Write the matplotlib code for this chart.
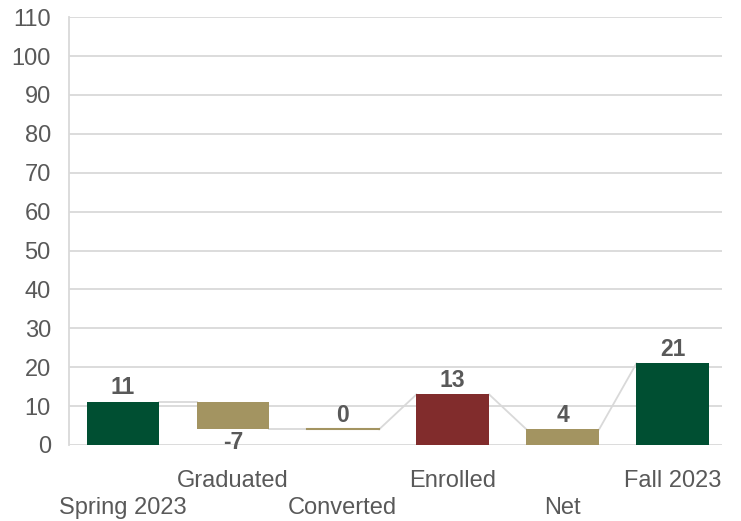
import matplotlib.pyplot as plt

plt.rcParams['font.family'] = ['Liberation Sans', 'DejaVu Sans']

categories = ['Spring 2023', 'Graduated', 'Converted', 'Enrolled', 'Net', 'Fall 2023']
values = [11, -7, 0, 13, 4, 21]
bar_bottom = [0, 4, 4, 0, 0, 0]
bar_top = [11, 11, 4, 13, 4, 21]
# level of the connector line at the left / right edge of each bar
left_level = [11, 11, 4, 13, 4, 21]
right_level = [11, 4, 4, 13, 4, 21]
colors = ['#004F32', '#A39461', '#A39461', '#812C2C', '#A39461', '#004F32']

text_color = '#595959'
grid_color = '#D9D9D9'
width = 0.66

fig = plt.figure(figsize=(7.41, 5.21), dpi=100)
ax = fig.add_axes([0.093, 0.146, 0.881, 0.821])

x = list(range(len(categories)))

# connector line
for i in range(len(x) - 1):
    ax.plot([x[i] + width / 2, x[i + 1] - width / 2],
            [right_level[i], left_level[i + 1]],
            color=grid_color, lw=1.3, zorder=2)

for i in x:
    h = bar_top[i] - bar_bottom[i]
    if h == 0:
        ax.plot([i - width / 2, i + width / 2], [bar_bottom[i]] * 2,
                color=colors[i], lw=1.5, zorder=3)
    else:
        ax.bar(i, h, bottom=bar_bottom[i], width=width, color=colors[i], zorder=3)
    if values[i] < 0:
        ax.text(i, bar_bottom[i] - 0.5, str(values[i]), ha='center', va='top',
                fontsize=16.5, fontweight='bold', color=text_color)
    else:
        ax.text(i, bar_top[i] + 0.7, str(values[i]), ha='center', va='bottom',
                fontsize=16.5, fontweight='bold', color=text_color)

ax.set_xlim(-0.49, 5.445)
ax.set_ylim(0, 110)
ax.set_yticks(range(0, 111, 10))
ax.yaxis.grid(True, color=grid_color, lw=1.3, zorder=0)
ax.set_axisbelow(True)

ax.set_xticks(x)
ax.set_xticklabels([('\n' + c) if i % 2 == 0 else c for i, c in enumerate(categories)],
                   linespacing=1.3)
ax.tick_params(axis='both', length=0, labelsize=17, labelcolor=text_color)
ax.tick_params(axis='x', pad=18)
ax.tick_params(axis='y', pad=13)

for s in ['top', 'right', 'bottom']:
    ax.spines[s].set_visible(False)
ax.spines['left'].set_color(grid_color)
ax.spines['left'].set_linewidth(1.3)

plt.savefig('out.png', dpi=100)
